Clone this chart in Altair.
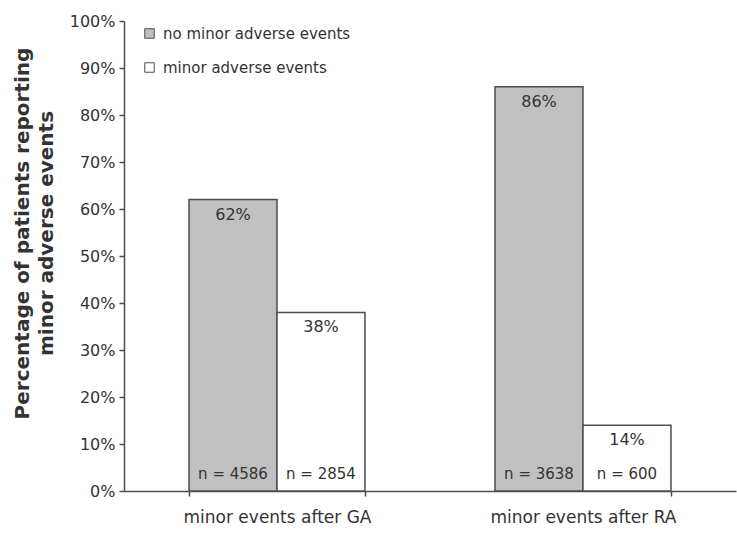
import altair as alt
import pandas as pd

# Survey results: share of patients reporting minor adverse events
categories = ["minor events after GA", "minor events after RA"]
groups = ["no minor adverse events", "minor adverse events"]
pct_no_event = [0.62, 0.86]
pct_event = [0.38, 0.14]
n_no_event = [4586, 3638]
n_event = [2854, 600]
y_ticks = [0, 0.1, 0.2, 0.3, 0.4, 0.5, 0.6, 0.7, 0.8, 0.9, 1.0]

rows = []
for i, cat in enumerate(categories):
    rows.append({"category": cat, "group": groups[0], "pct": pct_no_event[i], "n": n_no_event[i]})
    rows.append({"category": cat, "group": groups[1], "pct": pct_event[i], "n": n_event[i]})
df = pd.DataFrame(rows)
df["pct_label"] = (df["pct"] * 100).round().astype(int).astype(str) + "%"
df["n_label"] = "n = " + df["n"].astype(str)

FONT = "DejaVu Sans"
TEXT_COLOR = "#333333"
EDGE = "#4d4d4d"

x_enc = alt.X(
    "category:N",
    sort=categories,
    scale=alt.Scale(paddingInner=0.425, paddingOuter=0.2125),
    axis=alt.Axis(
        title=None,
        labelAngle=0,
        labelFontSize=17,
        labelPadding=13,
        labelLimit=0,
        tickBand="extent",
        tickSize=5,
        labelColor=TEXT_COLOR,
    ),
)
xoff_enc = alt.XOffset("group:N", sort=groups, scale=alt.Scale(paddingInner=0, paddingOuter=0))

bars = alt.Chart(df).mark_bar(stroke=EDGE, strokeWidth=1.5).encode(
    x=x_enc,
    xOffset=xoff_enc,
    y=alt.Y(
        "pct:Q",
        scale=alt.Scale(domain=[0, 1], nice=False),
        axis=alt.Axis(
            values=y_ticks,
            format=".0%",
            title=["Percentage of patients reporting", "minor adverse events"],
            titleFontSize=20,
            titleFontWeight="bold",
            titleColor=TEXT_COLOR,
            titleLineHeight=24,
            titleX=-92,
            titleY=212,
            titleAlign="center",
            labelFontSize=16,
            labelColor=TEXT_COLOR,
            tickSize=5,
            labelPadding=4,
        ),
    ),
    fill=alt.Fill(
        "group:N",
        sort=groups,
        scale=alt.Scale(domain=groups, range=["#c0c0c0", "#ffffff"]),
        legend=alt.Legend(
            title=None,
            orient="none",
            legendX=18,
            legendY=5,
            symbolType="square",
            symbolSize=90,
            symbolStrokeColor=EDGE,
            symbolStrokeWidth=1,
            labelFontSize=15,
            labelColor=TEXT_COLOR,
            labelLimit=0,
            rowPadding=18,
            labelOffset=6,
        ),
    ),
)

pct_text = alt.Chart(df).mark_text(
    baseline="top", dy=7, fontSize=16, color=TEXT_COLOR, font=FONT
).encode(x=x_enc, xOffset=xoff_enc, y="pct:Q", text="pct_label:N")

n_text = alt.Chart(df).mark_text(
    baseline="bottom", dy=-9, fontSize=15, color=TEXT_COLOR, font=FONT
).encode(x=x_enc, xOffset=xoff_enc, y=alt.datum(0), text="n_label:N")

chart = (
    alt.layer(bars, pct_text, n_text)
    .properties(
        width=612,
        height=470,
        autosize=alt.AutoSizeParams(type="none"),
        padding={"left": 124, "top": 21, "right": 1, "bottom": 43},
        background="white",
    )
    .configure_view(stroke=None)
    .configure_axis(
        grid=False,
        domainColor=EDGE,
        domainWidth=1.5,
        tickColor=EDGE,
        tickWidth=1.5,
        labelFont=FONT,
        titleFont=FONT,
    )
    .configure_legend(labelFont=FONT)
)

chart.save("out.html", embed_options={"renderer": "svg", "actions": False})
